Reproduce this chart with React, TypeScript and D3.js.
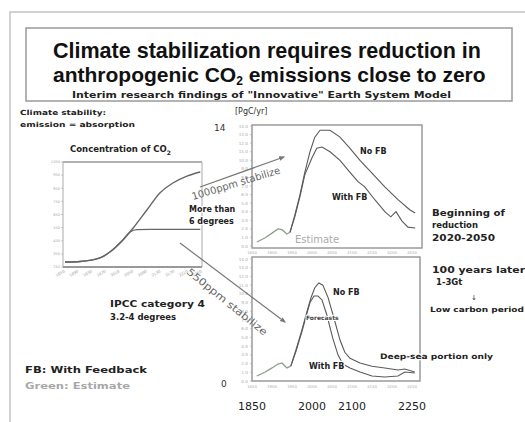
import React from "react";
import * as d3 from "d3";

type Pt = [number, number];

// ---- Data ----
// Concentration of CO2 (ppm) vs year, left panel
const concYears = [1850, 1894, 1952, 1981, 2019, 2049, 2089, 2127, 2165, 2206, 2245];
const conc1000 = [288, 292, 319, 364, 456, 547, 684, 814, 890, 943, 974];
const conc550Years = [1850, 1894, 1952, 1981, 2019, 2040, 2060, 2100, 2245];
const conc550 = [288, 292, 319, 364, 456, 517, 535, 537, 537];
const concTicks = [250, 350, 450, 550, 650, 750, 850, 950, 1050];
const concYearTicks = [1850, 1890, 1930, 1970, 2010, 2050, 2090, 2130, 2170, 2210, 2250];

// Emissions PgC/yr, upper panel (1000ppm stabilization)
const upHistory: Pt[] = [[1862, 0.47], [1882, 0.93], [1900, 1.5], [1915, 2.0], [1925, 1.9], [1937, 1.4], [1945, 1.6]];
const upNoFB: Pt[] = [[1945, 1.6], [1957, 3.6], [1970, 6.0], [1982, 8.6], [1995, 11.0], [2007, 12.7], [2020, 13.5], [2045, 13.5], [2070, 12.7], [2095, 11.4], [2120, 10.0], [2150, 8.5], [2182, 6.9], [2215, 5.4], [2245, 4.2], [2258, 3.85]];
const upWithFB: Pt[] = [[1945, 1.6], [1957, 3.4], [1970, 5.8], [1982, 8.3], [2000, 10.3], [2012, 11.4], [2025, 11.55], [2045, 11.0], [2070, 10.0], [2095, 8.6], [2115, 7.5], [2132, 6.9], [2157, 5.4], [2182, 4.0], [2197, 3.4], [2210, 4.0], [2225, 2.9], [2240, 2.2], [2258, 2.1]];

// Emissions PgC/yr, lower panel (550ppm stabilization)
const loHistory: Pt[] = [[1862, 0.57], [1882, 1.0], [1900, 1.5], [1915, 1.95], [1925, 2.07], [1937, 1.5], [1947, 1.7]];
const loNoFB: Pt[] = [[1947, 1.7], [1960, 3.6], [1975, 5.9], [1987, 7.9], [1997, 9.5], [2007, 10.7], [2017, 11.25], [2027, 11.0], [2040, 9.6], [2055, 7.2], [2070, 4.7], [2082, 3.3], [2095, 2.6], [2120, 2.07], [2150, 1.7], [2182, 1.5], [2215, 1.26], [2232, 1.38], [2257, 1.03]];
const loWithFB: Pt[] = [[1947, 1.7], [1960, 3.4], [1975, 5.7], [1987, 7.7], [1995, 9.0], [2005, 9.75], [2015, 9.75], [2025, 9.3], [2037, 7.6], [2052, 4.9], [2065, 3.0], [2077, 1.95], [2095, 1.5], [2120, 1.03], [2150, 0.57], [2182, 0.46], [2215, 0.57], [2232, 1.03], [2257, 0.92]];

const emissionTicks = [0, 1, 2, 3, 4, 5, 6, 7, 8, 9, 10, 11, 12, 13, 14];
const panelYearTicks = [1850, 1900, 1950, 2000, 2050, 2100, 2150, 2200, 2250];
const bigYearLabels = [1850, 2000, 2100, 2250];

const FONT = "'DejaVu Sans', Verdana, sans-serif";
const TITLE_FONT = "'Liberation Sans', Arial, sans-serif";

export default function App() {
  const xE = d3.scaleLinear().domain([1850, 2250]).range([252, 412]);
  const yUp = d3.scaleLinear().domain([0, 14]).range([246, 126]);
  const yLo = d3.scaleLinear().domain([0, 14]).range([381, 259]);
  const xC = d3.scaleLinear().domain([1850, 2250]).range([65, 202]);
  const yC = d3.scaleLinear().domain([250, 1050]).range([267, 162]);

  const lineUp = d3.line<Pt>().x((d) => xE(d[0])).y((d) => yUp(d[1]));
  const lineLo = d3.line<Pt>().x((d) => xE(d[0])).y((d) => yLo(d[1]));
  const lineC = d3
    .line<Pt>()
    .x((d) => xC(d[0]))
    .y((d) => yC(d[1]))
    .curve(d3.curveMonotoneX);

  const c1000: Pt[] = concYears.map((y, i) => [y, conc1000[i]]);
  const c550: Pt[] = conc550Years.map((y, i) => [y, conc550[i]]);

  const lineCol = "#5a5a5a";
  const estCol = "#8f9e8c";

  const boldText = (
    x: number,
    y: number,
    s: string,
    size: number,
    extra: any = {}
  ) => (
    <text x={x} y={y} fontSize={size} fontWeight="bold" fill="#222" fontFamily={FONT} {...extra}>
      {s}
    </text>
  );

  const yTickCol = (scale: d3.ScaleLinear<number, number>, key: string) => (
    <g key={key}>
      {emissionTicks.map((t) => (
        <g key={t}>
          <text x={248} y={scale(t) + 1.5} fontSize={4.2} textAnchor="end" fill="#aaa" fontFamily={FONT}>
            {t.toFixed(1)}
          </text>
          <line x1={250} x2={252} y1={scale(t)} y2={scale(t)} stroke="#aaa" strokeWidth={0.6} />
        </g>
      ))}
    </g>
  );

  const xTickRow = (y: number, key: string) => (
    <g key={key}>
      {panelYearTicks.map((t) => (
        <text key={t} x={xE(t)} y={y} fontSize={3.8} textAnchor="middle" fill="#aaa" fontFamily={FONT}>
          {t}
        </text>
      ))}
    </g>
  );

  return (
    <svg
      width={525}
      height={422}
      style={{ position: "absolute", left: 0, top: 0, background: "#fff" }}
      fontFamily={FONT}
    >
      <defs>
        <marker id="arr" viewBox="0 0 10 10" refX="8" refY="5" markerWidth="5" markerHeight="5" orient="auto">
          <path d="M0,1 L10,5 L0,9 z" fill="#777" />
        </marker>
      </defs>
      <rect x={0} y={0} width={525} height={422} fill="#fff" />
      {/* slide border */}
      <rect x={10} y={12} width={540} height={430} fill="none" stroke="#c4c4c4" strokeWidth={1.5} />

      {/* title box */}
      <rect x={26} y={28} width={486} height={73} fill="#fff" stroke="#9a9a9a" strokeWidth={1.5} />
      <text
        x={53}
        y={58}
        fontSize={21.5}
        fontWeight="bold"
        fill="#111"
        fontFamily={TITLE_FONT}
        textLength={428}
        lengthAdjust="spacingAndGlyphs"
      >
        Climate stabilization requires reduction in
      </text>
      <text x={53} y={81.5} fontSize={21} fontWeight="bold" fill="#111" fontFamily={TITLE_FONT}>
        anthropogenic CO<tspan fontSize={12} dy={3}>2</tspan>
        <tspan dy={-3}> emissions close to zero</tspan>
      </text>
      <text x={72} y={97.5} fontSize={8.5} fontWeight="bold" fill="#222" textLength={379} lengthAdjust="spacingAndGlyphs">
        Interim research findings of "Innovative" Earth System Model
      </text>

      {/* left annotations */}
      {boldText(20, 115, "Climate stability:", 7, { textLength: 86, lengthAdjust: "spacingAndGlyphs" })}
      {boldText(20, 127, "emission = absorption", 7, { textLength: 115, lengthAdjust: "spacingAndGlyphs" })}
      <text x={70} y={152} fontSize={8.5} fontWeight="bold" fill="#222">
        Concentration of CO<tspan fontSize={6} dy={2.5}>2</tspan>
      </text>

      {/* concentration chart */}
      <g>
        <line x1={63} x2={202} y1={162} y2={162} stroke="#999" strokeWidth={1.4} />
        <line x1={63} x2={63} y1={162} y2={267} stroke="#aaa" strokeWidth={1} />
        <line x1={202} x2={202} y1={162} y2={267} stroke="#aaa" strokeWidth={1} />
        <line x1={63} x2={202} y1={267} y2={267} stroke="#999" strokeWidth={2} />
        {concTicks.map((t) => (
          <g key={t}>
            <text x={60} y={yC(t) + 1.3} fontSize={3.6} textAnchor="end" fill="#aaa">
              {t}
            </text>
            <line x1={61} x2={63} y1={yC(t)} y2={yC(t)} stroke="#aaa" strokeWidth={0.6} />
          </g>
        ))}
        {concYearTicks.map((t) => (
          <text
            key={t}
            x={xC(t)}
            y={272}
            fontSize={3.8}
            textAnchor="end"
            fill="#999"
            transform={`rotate(-30 ${xC(t)} 272)`}
          >
            {t}
          </text>
        ))}
        <path d={lineC(c550) || ""} fill="none" stroke="#666" strokeWidth={1.4} />
        <path d={lineC(c1000) || ""} fill="none" stroke="#666" strokeWidth={1.4} />
      </g>

      {/* y-axis labels of emission panels */}
      <text x={235} y={114} fontSize={8} fill="#333">[PgC/yr]</text>
      <text x={214} y={131} fontSize={9} fill="#333">14</text>
      <text x={221} y={387} fontSize={9} fill="#333">0</text>

      {/* upper emission panel */}
      <rect x={252} y={125} width={170} height={123} fill="#fff" stroke="#9a9a9a" strokeWidth={1.5} />
      {yTickCol(yUp, "yu")}
      {xTickRow(254, "xu")}
      <path d={lineUp(upNoFB) || ""} fill="none" stroke={lineCol} strokeWidth={1.1} />
      <path d={lineUp(upWithFB) || ""} fill="none" stroke={lineCol} strokeWidth={1.1} />
      <path d={lineUp(upHistory) || ""} fill="none" stroke={estCol} strokeWidth={1.3} />
      <text x={295} y={243} fontSize={10} fill="#aaa">Estimate</text>
      {boldText(360, 154, "No FB", 8)}
      {boldText(332, 200, "With FB", 8, { stroke: "#fff", strokeWidth: 2.5, paintOrder: "stroke" })}

      {/* lower emission panel */}
      <rect x={252} y={257} width={168} height={124} fill="#fff" stroke="#9a9a9a" strokeWidth={1.5} />
      {yTickCol(yLo, "yl")}
      {xTickRow(388, "xl")}
      <path d={lineLo(loNoFB) || ""} fill="none" stroke={lineCol} strokeWidth={1.1} />
      <path d={lineLo(loWithFB) || ""} fill="none" stroke={lineCol} strokeWidth={1.1} />
      <path d={lineLo(loHistory) || ""} fill="none" stroke={estCol} strokeWidth={1.3} />
      {boldText(333, 295, "No FB", 8)}
      <text x={306} y={320} fontSize={6} fontWeight="bold" fill="#444" stroke="#fff" strokeWidth={2} paintOrder="stroke">
        Forecasts
      </text>
      {boldText(309, 369, "With FB", 8, { stroke: "#fff", strokeWidth: 2.5, paintOrder: "stroke" })}
      {boldText(380, 359, "Deep-sea portion only", 7.5, {
        textLength: 113,
        lengthAdjust: "spacingAndGlyphs",
        stroke: "#fff",
        strokeWidth: 2.5,
        paintOrder: "stroke",
      })}

      {/* big year labels */}
      {bigYearLabels.map((t) => (
        <text key={t} x={xE(t)} y={410} fontSize={11} textAnchor="middle" fill="#222">
          {t}
        </text>
      ))}

      {/* arrows */}
      <line x1={200} y1={187} x2={284} y2={157} stroke="#777" strokeWidth={1.2} markerEnd="url(#arr)" />
      <text
        x={193}
        y={200}
        fontSize={10}
        fill="#666"
        transform="rotate(-17 193 200)"
        textLength={92}
        lengthAdjust="spacingAndGlyphs"
      >
        1000ppm stabilize
      </text>
      <line x1={180} y1={243} x2={285} y2={322} stroke="#777" strokeWidth={1.2} markerEnd="url(#arr)" />
      <text
        x={186}
        y={273}
        fontSize={10}
        fill="#666"
        transform="rotate(39 186 273)"
        textLength={100}
        lengthAdjust="spacingAndGlyphs"
      >
        550ppm stabilize
      </text>

      {boldText(189, 212, "More than", 8, { stroke: "#fff", strokeWidth: 2, paintOrder: "stroke" })}
      {boldText(189, 224, "6 degrees", 8, { stroke: "#fff", strokeWidth: 2, paintOrder: "stroke" })}

      {boldText(110, 307, "IPCC category 4", 8.5, { textLength: 95, lengthAdjust: "spacingAndGlyphs" })}
      {boldText(110, 320, "3.2-4 degrees", 8.5)}

      {boldText(25, 373, "FB: With Feedback", 9.5, { textLength: 122, lengthAdjust: "spacingAndGlyphs" })}
      <text x={25} y={389} fontSize={9.5} fontWeight="bold" fill="#a8a8a8" textLength={105} lengthAdjust="spacingAndGlyphs">
        Green: Estimate
      </text>

      {/* right annotations */}
      {boldText(432, 216, "Beginning of", 8.5, { textLength: 73, lengthAdjust: "spacingAndGlyphs" })}
      {boldText(432, 228, "reduction", 8.5)}
      {boldText(432, 241, "2020-2050", 8.5, { textLength: 63, lengthAdjust: "spacingAndGlyphs" })}
      {boldText(432, 273, "100 years later", 8.5, { textLength: 93, lengthAdjust: "spacingAndGlyphs" })}
      {boldText(436, 285, "1-3Gt", 8.5)}
      <text x={474} y={300} fontSize={7} fill="#333" textAnchor="middle">↓</text>
      {boldText(430, 312, "Low carbon period", 7.2, { textLength: 94, lengthAdjust: "spacingAndGlyphs" })}
    </svg>
  );
}
